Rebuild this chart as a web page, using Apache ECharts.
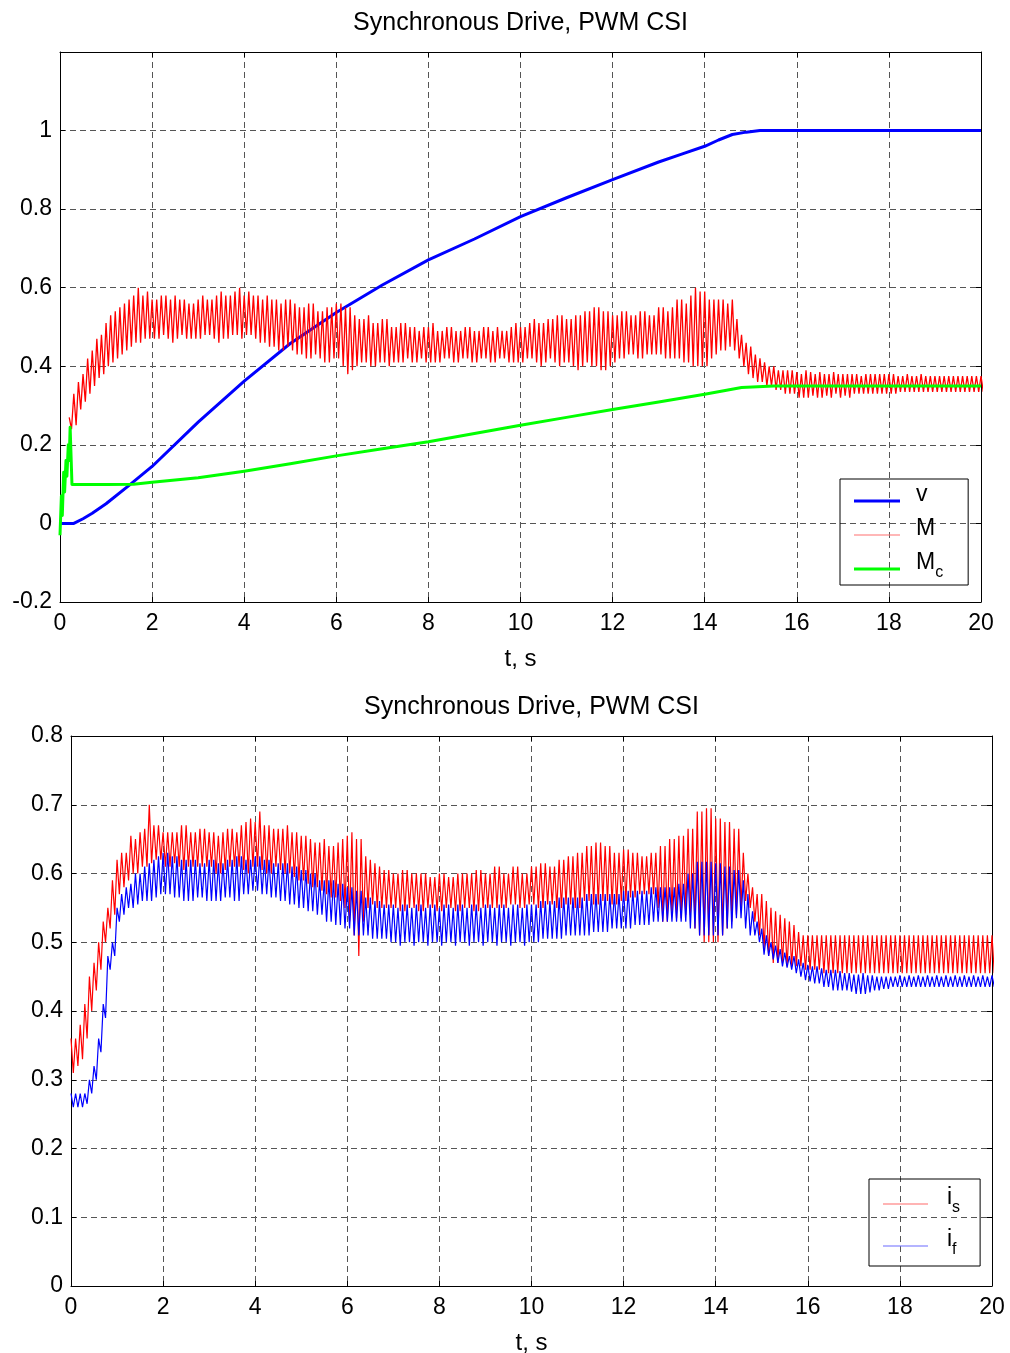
<!DOCTYPE html>
<html>
<head>
<meta charset="utf-8">
<script src="https://cdn.jsdelivr.net/npm/echarts@6/dist/echarts.min.js"></script>
<style>
  html, body { margin: 0; padding: 0; background: #fff; }
  #chart { width: 1010px; height: 1353px; }
</style>
</head>
<body>
<div id="chart"></div>
<script>
// ---- data ----
const titleText = 'Synchronous Drive, PWM CSI'
const STEP = 0.1 // spacing (s) of the peak readings of the oscillating signals

// speed v (smooth)
const vTime = [0, 0.3, 0.5, 0.7, 1, 1.5, 2, 3, 4, 5, 6, 7, 8, 9, 10, 11, 12, 13, 13.5, 14, 14.3, 14.6, 14.9, 15.2, 20]
const vSpeed = [0, 0, 0.012, 0.026, 0.05, 0.097, 0.145, 0.258, 0.362, 0.458, 0.537, 0.607, 0.671, 0.724, 0.781, 0.829, 0.875, 0.92, 0.94, 0.96, 0.976, 0.99, 0.996, 1, 1]

// load torque Mc
const mcTime = [0, 0.03, 0.05, 0.08, 0.1, 0.13, 0.15, 0.18, 0.2, 0.22, 0.26, 1, 1.6, 2, 3, 4, 5, 6, 7, 8, 9, 10, 11, 12, 13, 14, 14.8, 15.5, 20]
const mcLoad = [-0.03, 0.07, 0.02, 0.13, 0.08, 0.16, 0.12, 0.2, 0.16, 0.245, 0.099, 0.099, 0.1, 0.105, 0.116, 0.133, 0.152, 0.172, 0.19, 0.208, 0.229, 0.25, 0.27, 0.29, 0.309, 0.329, 0.346, 0.35, 0.35]

// motor torque M: upper / lower peaks, from t = 0.2 s every 0.1 s
const mStart = 0.2
const mHigh = [
  0.27, 0.33, 0.36, 0.38, 0.42, 0.44, 0.47, 0.48, 0.51, 0.53,
  0.54, 0.55, 0.56, 0.57, 0.58, 0.60, 0.58, 0.59, 0.57, 0.57,
  0.58, 0.58, 0.57, 0.58, 0.57, 0.57, 0.56, 0.56, 0.57, 0.58,
  0.57, 0.57, 0.58, 0.59, 0.58, 0.58, 0.59, 0.60, 0.58, 0.59,
  0.58, 0.58, 0.57, 0.58, 0.57, 0.57, 0.56, 0.57, 0.57, 0.56,
  0.55, 0.55, 0.56, 0.56, 0.54, 0.54, 0.55, 0.55, 0.56, 0.56,
  0.55, 0.55, 0.53, 0.52, 0.52, 0.53, 0.51, 0.51, 0.52, 0.52,
  0.50, 0.50, 0.51, 0.51, 0.50, 0.50, 0.49, 0.50, 0.50, 0.51,
  0.49, 0.49, 0.50, 0.50, 0.49, 0.49, 0.50, 0.50, 0.49, 0.49,
  0.50, 0.50, 0.49, 0.50, 0.49, 0.49, 0.50, 0.51, 0.50, 0.50,
  0.51, 0.52, 0.51, 0.51, 0.52, 0.52, 0.53, 0.53, 0.52, 0.52,
  0.53, 0.53, 0.54, 0.54, 0.55, 0.55, 0.54, 0.54, 0.53, 0.53,
  0.54, 0.54, 0.53, 0.53, 0.54, 0.54, 0.53, 0.53, 0.55, 0.55,
  0.54, 0.55, 0.57, 0.57, 0.56, 0.58, 0.60, 0.59, 0.59, 0.57,
  0.57, 0.57, 0.57, 0.56, 0.57, 0.52, 0.48, 0.46, 0.45, 0.43,
  0.42, 0.41, 0.40, 0.40, 0.39, 0.39, 0.39, 0.39, 0.385, 0.38,
  0.39, 0.385, 0.38, 0.385, 0.38, 0.38, 0.385, 0.38, 0.38, 0.38,
  0.38, 0.38, 0.375, 0.38, 0.38, 0.38, 0.38, 0.38, 0.38, 0.38,
  0.375, 0.375, 0.38, 0.375, 0.375, 0.38, 0.375, 0.375, 0.375, 0.375,
  0.375, 0.375, 0.375, 0.375, 0.375, 0.375, 0.375, 0.375, 0.375
]
const mLow = [
  0.24, 0.25, 0.29, 0.31, 0.33, 0.35, 0.37, 0.38, 0.40, 0.41,
  0.42, 0.43, 0.44, 0.45, 0.46, 0.46, 0.47, 0.47, 0.47, 0.47,
  0.48, 0.47, 0.46, 0.47, 0.48, 0.47, 0.47, 0.47, 0.47, 0.48,
  0.48, 0.47, 0.46, 0.47, 0.47, 0.48, 0.48, 0.47, 0.48, 0.48,
  0.47, 0.46, 0.46, 0.45, 0.45, 0.44, 0.44, 0.45, 0.44, 0.43,
  0.43, 0.42, 0.42, 0.43, 0.42, 0.41, 0.41, 0.42, 0.42, 0.40,
  0.38, 0.39, 0.40, 0.41, 0.41, 0.40, 0.40, 0.41, 0.41, 0.40,
  0.41, 0.41, 0.41, 0.42, 0.41, 0.41, 0.42, 0.41, 0.41, 0.41,
  0.41, 0.42, 0.42, 0.41, 0.41, 0.42, 0.42, 0.41, 0.41, 0.42,
  0.42, 0.41, 0.41, 0.42, 0.42, 0.41, 0.41, 0.41, 0.41, 0.42,
  0.42, 0.41, 0.40, 0.41, 0.42, 0.41, 0.40, 0.41, 0.41, 0.40,
  0.39, 0.40, 0.41, 0.40, 0.40, 0.39, 0.39, 0.40, 0.41, 0.42,
  0.42, 0.43, 0.43, 0.42, 0.42, 0.43, 0.43, 0.43, 0.43, 0.42,
  0.42, 0.42, 0.42, 0.41, 0.41, 0.40, 0.40, 0.40, 0.40, 0.42,
  0.43, 0.44, 0.44, 0.45, 0.44, 0.42, 0.40, 0.38, 0.37, 0.36,
  0.36, 0.35, 0.35, 0.34, 0.34, 0.33, 0.33, 0.33, 0.32, 0.32,
  0.32, 0.325, 0.32, 0.32, 0.325, 0.32, 0.33, 0.32, 0.325, 0.32,
  0.33, 0.33, 0.33, 0.33, 0.33, 0.33, 0.33, 0.33, 0.33, 0.33,
  0.335, 0.335, 0.335, 0.335, 0.335, 0.335, 0.335, 0.335, 0.335, 0.335,
  0.335, 0.335, 0.335, 0.335, 0.335, 0.335, 0.335, 0.335, 0.335
]

// stator current is: upper / lower peaks, from t = 0 every 0.1 s
const isHigh = [
  0.36, 0.36, 0.38, 0.41, 0.45, 0.47, 0.50, 0.53, 0.55, 0.59,
  0.62, 0.63, 0.63, 0.655, 0.65, 0.66, 0.665, 0.70, 0.67, 0.67,
  0.66, 0.66, 0.66, 0.66, 0.67, 0.67, 0.66, 0.66, 0.665, 0.665,
  0.66, 0.66, 0.655, 0.66, 0.665, 0.665, 0.66, 0.67, 0.675, 0.68,
  0.675, 0.69, 0.67, 0.67, 0.665, 0.665, 0.665, 0.67, 0.66, 0.66,
  0.655, 0.655, 0.65, 0.645, 0.645, 0.65, 0.64, 0.64, 0.645, 0.65,
  0.655, 0.66, 0.65, 0.65, 0.625, 0.62, 0.615, 0.61, 0.605, 0.605,
  0.60, 0.60, 0.605, 0.605, 0.60, 0.60, 0.60, 0.60, 0.595, 0.595,
  0.60, 0.60, 0.595, 0.595, 0.60, 0.60, 0.60, 0.60, 0.605, 0.605,
  0.60, 0.60, 0.61, 0.61, 0.60, 0.60, 0.61, 0.61, 0.60, 0.60,
  0.61, 0.61, 0.615, 0.615, 0.61, 0.61, 0.62, 0.62, 0.625, 0.625,
  0.63, 0.63, 0.64, 0.64, 0.645, 0.645, 0.64, 0.64, 0.63, 0.63,
  0.635, 0.635, 0.63, 0.63, 0.625, 0.625, 0.63, 0.63, 0.64, 0.64,
  0.65, 0.65, 0.655, 0.655, 0.665, 0.665, 0.69, 0.69, 0.695, 0.695,
  0.68, 0.68, 0.675, 0.675, 0.665, 0.665, 0.63, 0.60, 0.58, 0.57,
  0.57, 0.56, 0.55, 0.545, 0.54, 0.535, 0.53, 0.525, 0.515, 0.51,
  0.51, 0.51, 0.51, 0.51, 0.51, 0.51, 0.51, 0.51, 0.51, 0.51,
  0.51, 0.51, 0.51, 0.51, 0.51, 0.51, 0.51, 0.51, 0.51, 0.51,
  0.51, 0.51, 0.51, 0.51, 0.51, 0.51, 0.51, 0.51, 0.51, 0.51,
  0.51, 0.51, 0.51, 0.51, 0.51, 0.51, 0.51, 0.51, 0.51, 0.51,
  0.51
]
const isLow = [
  0.31, 0.32, 0.33, 0.36, 0.40, 0.43, 0.46, 0.50, 0.52, 0.54,
  0.57, 0.58, 0.59, 0.60, 0.60, 0.61, 0.61, 0.615, 0.62, 0.62,
  0.61, 0.61, 0.615, 0.61, 0.605, 0.61, 0.61, 0.61, 0.61, 0.61,
  0.61, 0.60, 0.60, 0.605, 0.61, 0.61, 0.61, 0.605, 0.60, 0.61,
  0.61, 0.605, 0.60, 0.60, 0.61, 0.605, 0.60, 0.60, 0.595, 0.59,
  0.59, 0.585, 0.58, 0.58, 0.575, 0.57, 0.565, 0.565, 0.56, 0.55,
  0.53, 0.51, 0.48, 0.53, 0.55, 0.555, 0.55, 0.55, 0.55, 0.55,
  0.55, 0.545, 0.545, 0.55, 0.55, 0.545, 0.545, 0.55, 0.55, 0.545,
  0.545, 0.55, 0.55, 0.545, 0.545, 0.55, 0.55, 0.545, 0.545, 0.55,
  0.55, 0.55, 0.55, 0.55, 0.55, 0.555, 0.555, 0.55, 0.55, 0.555,
  0.555, 0.55, 0.55, 0.555, 0.555, 0.55, 0.55, 0.555, 0.555, 0.55,
  0.55, 0.56, 0.56, 0.555, 0.555, 0.56, 0.56, 0.555, 0.555, 0.56,
  0.56, 0.565, 0.565, 0.57, 0.57, 0.57, 0.57, 0.55, 0.53, 0.53,
  0.54, 0.535, 0.535, 0.54, 0.54, 0.52, 0.51, 0.50, 0.50, 0.50,
  0.50, 0.51, 0.52, 0.53, 0.54, 0.55, 0.56, 0.55, 0.53, 0.51,
  0.49, 0.48, 0.47, 0.47, 0.47, 0.465, 0.465, 0.465, 0.465, 0.46,
  0.46, 0.46, 0.46, 0.455, 0.455, 0.455, 0.455, 0.455, 0.455, 0.455,
  0.455, 0.455, 0.455, 0.455, 0.455, 0.455, 0.455, 0.455, 0.455, 0.455,
  0.455, 0.455, 0.455, 0.455, 0.455, 0.455, 0.455, 0.455, 0.455, 0.455,
  0.455, 0.455, 0.455, 0.455, 0.455, 0.455, 0.455, 0.455, 0.455, 0.455,
  0.455
]

// field current if: upper / lower peaks, from t = 0 every 0.1 s
const ifHigh = [
  0.28, 0.28, 0.28, 0.28, 0.30, 0.32, 0.36, 0.41, 0.48, 0.50,
  0.55, 0.57, 0.58, 0.585, 0.60, 0.60, 0.61, 0.615, 0.62, 0.625,
  0.63, 0.63, 0.625, 0.625, 0.62, 0.62, 0.62, 0.62, 0.615, 0.615,
  0.62, 0.62, 0.615, 0.615, 0.62, 0.62, 0.625, 0.625, 0.62, 0.62,
  0.625, 0.625, 0.62, 0.62, 0.615, 0.615, 0.615, 0.615, 0.61, 0.61,
  0.605, 0.605, 0.60, 0.60, 0.59, 0.59, 0.59, 0.59, 0.585, 0.585,
  0.58, 0.58, 0.575, 0.575, 0.565, 0.565, 0.56, 0.56, 0.555, 0.555,
  0.555, 0.55, 0.555, 0.555, 0.55, 0.555, 0.555, 0.55, 0.555, 0.555,
  0.55, 0.555, 0.555, 0.55, 0.555, 0.555, 0.55, 0.555, 0.555, 0.55,
  0.555, 0.555, 0.55, 0.555, 0.555, 0.55, 0.555, 0.555, 0.55, 0.555,
  0.555, 0.555, 0.56, 0.56, 0.56, 0.56, 0.565, 0.565, 0.565, 0.565,
  0.565, 0.565, 0.57, 0.57, 0.57, 0.57, 0.57, 0.57, 0.57, 0.57,
  0.575, 0.575, 0.575, 0.575, 0.575, 0.575, 0.58, 0.58, 0.58, 0.58,
  0.58, 0.58, 0.585, 0.585, 0.60, 0.60, 0.617, 0.617, 0.617, 0.617,
  0.615, 0.615, 0.61, 0.61, 0.605, 0.605, 0.59, 0.57, 0.545, 0.53,
  0.52, 0.51, 0.50, 0.495, 0.49, 0.485, 0.48, 0.48, 0.475, 0.47,
  0.467, 0.465, 0.465, 0.462, 0.46, 0.46, 0.46, 0.458, 0.455, 0.455,
  0.453, 0.453, 0.455, 0.452, 0.452, 0.45, 0.45, 0.45, 0.45, 0.45,
  0.452, 0.45, 0.452, 0.45, 0.452, 0.45, 0.452, 0.45, 0.452, 0.45,
  0.452, 0.45, 0.452, 0.45, 0.452, 0.45, 0.452, 0.45, 0.452, 0.45,
  0.452
]
const ifLow = [
  0.26, 0.26, 0.26, 0.265, 0.28, 0.30, 0.34, 0.39, 0.46, 0.48,
  0.53, 0.54, 0.55, 0.55, 0.555, 0.56, 0.56, 0.56, 0.565, 0.57,
  0.57, 0.57, 0.565, 0.565, 0.56, 0.56, 0.56, 0.565, 0.565, 0.56,
  0.56, 0.56, 0.56, 0.565, 0.565, 0.56, 0.56, 0.57, 0.57, 0.575,
  0.575, 0.57, 0.57, 0.565, 0.565, 0.56, 0.56, 0.555, 0.555, 0.55,
  0.55, 0.545, 0.545, 0.54, 0.54, 0.53, 0.53, 0.525, 0.525, 0.52,
  0.52, 0.51, 0.51, 0.51, 0.51, 0.505, 0.505, 0.505, 0.505, 0.50,
  0.50, 0.495, 0.50, 0.50, 0.495, 0.50, 0.50, 0.495, 0.50, 0.50,
  0.495, 0.50, 0.50, 0.495, 0.50, 0.50, 0.495, 0.50, 0.50, 0.495,
  0.50, 0.50, 0.495, 0.50, 0.50, 0.495, 0.50, 0.50, 0.495, 0.50,
  0.50, 0.50, 0.505, 0.505, 0.505, 0.505, 0.505, 0.51, 0.51, 0.51,
  0.51, 0.51, 0.51, 0.515, 0.515, 0.515, 0.515, 0.52, 0.52, 0.52,
  0.52, 0.52, 0.525, 0.525, 0.525, 0.525, 0.53, 0.53, 0.53, 0.53,
  0.53, 0.53, 0.53, 0.53, 0.52, 0.52, 0.51, 0.51, 0.51, 0.51,
  0.51, 0.51, 0.52, 0.52, 0.535, 0.535, 0.52, 0.51, 0.51, 0.50,
  0.482, 0.48, 0.475, 0.47, 0.465, 0.463, 0.46, 0.455, 0.45, 0.445,
  0.443, 0.44, 0.44, 0.435, 0.435, 0.43, 0.43, 0.43, 0.43, 0.428,
  0.425, 0.425, 0.425, 0.427, 0.43, 0.43, 0.432, 0.432, 0.435, 0.435,
  0.435, 0.435, 0.435, 0.435, 0.435, 0.435, 0.435, 0.435, 0.435, 0.435,
  0.435, 0.435, 0.435, 0.435, 0.435, 0.435, 0.435, 0.435, 0.435, 0.435,
  0.435
]

// ---- helpers ----
const FONT = '"Liberation Sans", Arial, sans-serif'
const FS = 23

function round2(t) {
  return Math.round(t * 100) / 100
}
// each reading gives one stroke: upper peak, then lower peak half a step later
function bandSeries(start, high, low) {
  const out = []
  high.forEach((h, k) => {
    const t = start + k * STEP
    out.push([round2(t), h])
    out.push([round2(t + STEP / 2), low[k]])
  })
  return out
}
function pairSeries(times, values) {
  return times.map((t, i) => [t, values[i]])
}

const thickIcon = 'path://M0,0M0,1.5H46V4.5H0ZM46,6'
const thinIcon = 'path://M0,0M0,2.5H46V3.5H0ZM46,6'
function makeRich(textPad) {
  return {
    m: { fontSize: FS, fontFamily: FONT, color: '#000', verticalAlign: 'bottom', lineHeight: 24, padding: [0, 0, 7, textPad] },
    s: { fontSize: 16, fontFamily: FONT, color: '#000', verticalAlign: 'bottom', lineHeight: 18 }
  }
}
const legendLabels = { v: '{m|v}', M: '{m|M}', Mc: '{m|M}{s|c}', is: '{m|i}{s|s}', if: '{m|i}{s|f}' }

function xAxisPair(gridIndex, title) {
  const line = { show: true, onZero: false, lineStyle: { color: '#000', width: 1 } }
  const tick = { show: true, inside: true, length: 5, lineStyle: { color: '#000' } }
  return [
    {
      gridIndex, type: 'value', min: 0, max: 20, interval: 2, position: 'bottom',
      name: 't, s', nameLocation: 'middle', nameGap: 45,
      nameTextStyle: { fontSize: 24, fontFamily: FONT, color: '#000' },
      axisLine: line, axisTick: tick,
      axisLabel: { fontSize: FS, fontFamily: FONT, color: '#000', margin: 10 },
      splitLine: { show: true, lineStyle: { color: '#555', type: [6, 4], width: 1 } }
    },
    {
      gridIndex, type: 'value', min: 0, max: 20, interval: 2, position: 'top',
      name: title, nameLocation: 'middle', nameGap: 16,
      nameTextStyle: { fontSize: 25, fontFamily: FONT, color: '#000' },
      axisLine: line, axisTick: tick, axisLabel: { show: false }, splitLine: { show: false }
    }
  ]
}

function yAxisPair(gridIndex, min, max, interval, labelFmt) {
  const line = { show: true, onZero: false, lineStyle: { color: '#000', width: 1 } }
  const tick = { show: true, inside: true, length: 5, lineStyle: { color: '#000' } }
  return [
    {
      gridIndex, type: 'value', min, max, interval, position: 'left',
      axisLine: line, axisTick: tick,
      axisLabel: { fontSize: FS, fontFamily: FONT, color: '#000', margin: 8, formatter: labelFmt },
      splitLine: { show: true, lineStyle: { color: '#555', type: [6, 4], width: 1 } }
    },
    {
      gridIndex, type: 'value', min, max, interval, position: 'right',
      axisLine: line, axisTick: tick, axisLabel: { show: false }, splitLine: { show: false }
    }
  ]
}

const baseLine = { type: 'line', symbol: 'none', showSymbol: false, animation: false, silent: true, emphasis: { disabled: true } }

const option = {
  animation: false,
  backgroundColor: '#fff',
  textStyle: { fontFamily: FONT, color: '#000' },
  grid: [
    { left: 60, top: 52, width: 921, height: 550, outerBoundsMode: 'none' },
    { left: 71, top: 736, width: 921, height: 550, outerBoundsMode: 'none' }
  ],
  xAxis: [...xAxisPair(0, titleText), ...xAxisPair(1, titleText)],
  yAxis: [
    ...yAxisPair(0, -0.2, 1.2, 0.2, (v) => (v > 1.1 ? '' : String(+v.toFixed(1)))),
    ...yAxisPair(1, 0, 0.8, 0.1, (v) => String(+v.toFixed(1)))
  ],
  legend: [
    {
      left: 840, top: 479, orient: 'vertical', selectedMode: false,
      borderColor: '#000', borderWidth: 1, padding: [4, 25, 4, 14],
      itemWidth: 46, itemHeight: 6, itemGap: 4,
      itemStyle: { borderWidth: 0 },
      data: [
        { name: 'v', icon: thickIcon },
        { name: 'M', icon: thinIcon, itemStyle: { color: '#ff7070' } },
        { name: 'Mc', icon: thickIcon }
      ],
      formatter: (name) => legendLabels[name],
      textStyle: { rich: makeRich(11) }
    },
    {
      left: 869, top: 1179, orient: 'vertical', selectedMode: false,
      borderColor: '#000', borderWidth: 1, padding: [7, 20, 8, 14],
      itemWidth: 45, itemHeight: 6, itemGap: 12,
      itemStyle: { borderWidth: 0 },
      data: [
        { name: 'is', icon: thinIcon, itemStyle: { color: '#ff6a6a' } },
        { name: 'if', icon: thinIcon, itemStyle: { color: '#6a6aff' } }
      ],
      formatter: (name) => legendLabels[name],
      textStyle: { rich: makeRich(14) }
    }
  ],
  series: [
    { ...baseLine, name: 'v', xAxisIndex: 0, yAxisIndex: 0, data: pairSeries(vTime, vSpeed),
      lineStyle: { color: '#0000ff', width: 3, join: 'round' }, itemStyle: { color: '#0000ff' } },
    { ...baseLine, name: 'M', xAxisIndex: 0, yAxisIndex: 0, data: bandSeries(mStart, mHigh, mLow),
      lineStyle: { color: '#ff0000', width: 1.3 }, itemStyle: { color: '#ff0000' } },
    { ...baseLine, name: 'Mc', xAxisIndex: 0, yAxisIndex: 0, data: pairSeries(mcTime, mcLoad),
      lineStyle: { color: '#00ff00', width: 3, join: 'round' }, itemStyle: { color: '#00ff00' } },
    { ...baseLine, name: 'is', xAxisIndex: 2, yAxisIndex: 2, data: bandSeries(0, isHigh, isLow),
      lineStyle: { color: '#ff0000', width: 1.2 }, itemStyle: { color: '#ff0000' } },
    { ...baseLine, name: 'if', xAxisIndex: 2, yAxisIndex: 2, data: bandSeries(0, ifHigh, ifLow),
      lineStyle: { color: '#0000ff', width: 1.2 }, itemStyle: { color: '#0000ff' } }
  ]
}

const myChart = echarts.init(document.getElementById('chart'), null, { renderer: 'canvas' })
myChart.setOption(option)
window.onresize = myChart.resize
</script>
</body>
</html>
